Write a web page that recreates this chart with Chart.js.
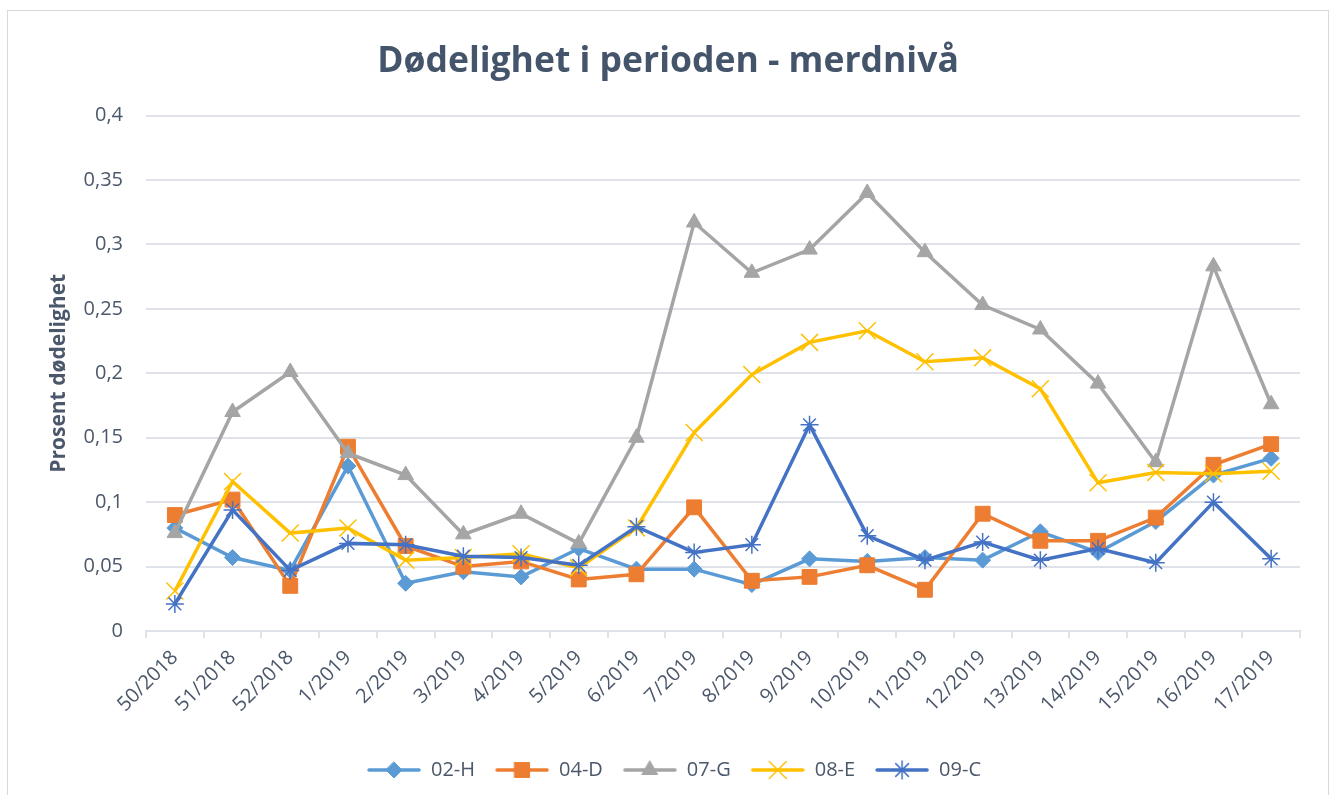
<!DOCTYPE html>
<html>
<head>
<meta charset="utf-8">
<script src="https://cdn.jsdelivr.net/npm/chart.js@4.4.1/dist/chart.umd.min.js"></script>
<style>
  html, body { margin: 0; padding: 0; background: #ffffff; }
  #wrap { position: relative; width: 1330px; height: 795px; overflow: hidden; }
  #frame { position: absolute; left: 7px; top: 10px; width: 1322px; height: 800px;
           border: 1px solid #d9d9d9; box-sizing: border-box; pointer-events: none; }
  canvas { position: absolute; left: 0; top: 0; }
</style>
</head>
<body>
<div id="wrap">
  <canvas id="c" width="1330" height="795"></canvas>
  <div id="frame"></div>
</div>
<script>
// ---- Data ----
const categories = ['50/2018','51/2018','52/2018','1/2019','2/2019','3/2019','4/2019','5/2019','6/2019','7/2019',
                    '8/2019','9/2019','10/2019','11/2019','12/2019','13/2019','14/2019','15/2019','16/2019','17/2019'];
const seriesNames = ['02-H','04-D','07-G','08-E','09-C'];
const s02H = [0.080,0.057,0.047,0.128,0.037,0.046,0.042,0.064,0.048,0.048,0.036,0.056,0.054,0.057,0.055,0.077,0.061,0.085,0.121,0.134];
const s04D = [0.090,0.102,0.035,0.143,0.066,0.050,0.054,0.040,0.044,0.096,0.039,0.042,0.051,0.032,0.091,0.070,0.070,0.088,0.129,0.145];
const s07G = [0.076,0.170,0.201,0.138,0.121,0.075,0.091,0.068,0.150,0.317,0.278,0.296,0.340,0.294,0.253,0.234,0.192,0.131,0.283,0.176];
const s08E = [0.031,0.116,0.076,0.080,0.055,0.057,0.060,0.049,0.080,0.154,0.199,0.224,0.233,0.209,0.212,0.188,0.115,0.123,0.122,0.124];
const s09C = [0.021,0.094,0.047,0.068,0.067,0.058,0.057,0.051,0.081,0.061,0.067,0.160,0.074,0.055,0.069,0.055,0.064,0.053,0.100,0.056];
const yTickValues = [0,0.05,0.1,0.15,0.2,0.25,0.3,0.35,0.4];
const yTickLabels = ['0','0,05','0,1','0,15','0,2','0,25','0,3','0,35','0,4'];
const titleText = 'Dødelighet i perioden - merdnivå';
const yTitleText = 'Prosent dødelighet';

// ---- Styles ----
const FONT = "'Open Sans', 'DejaVu Sans', sans-serif";
const textColor = '#4b576a';
const titleColor = '#44546A';
const gridColor = '#dfe3e9';
const seriesStyle = [
  { color: '#5B9BD5', point: 'rectRot',  radius: 8,    pbw: 1 },
  { color: '#ED7D31', point: 'rect',     radius: 10.5, pbw: 1 },
  { color: '#A5A5A5', point: 'triangle', radius: 9,    pbw: 1 },
  { color: '#FFC000', point: 'crossRot', radius: 12,   pbw: 1.5 },
  { color: '#4472C4', point: 'star',     radius: 9,    pbw: 1.5 }
];
const seriesData = [s02H, s04D, s07G, s08E, s09C];

function drawMarker(ctx, style, x, y, r, color, bw) {
  ctx.save();
  ctx.fillStyle = color; ctx.strokeStyle = color; ctx.lineWidth = bw;
  ctx.beginPath();
  if (style === 'rectRot') {
    ctx.moveTo(x, y - r); ctx.lineTo(x + r, y); ctx.lineTo(x, y + r); ctx.lineTo(x - r, y); ctx.closePath();
    ctx.fill(); ctx.stroke();
  } else if (style === 'rect') {
    const s = r * Math.SQRT1_2;
    ctx.rect(x - s, y - s, 2 * s, 2 * s); ctx.fill(); ctx.stroke();
  } else if (style === 'triangle') {
    ctx.moveTo(x, y - r);
    ctx.lineTo(x + r * Math.sin(Math.PI * 2 / 3), y - r * Math.cos(Math.PI * 2 / 3));
    ctx.lineTo(x + r * Math.sin(Math.PI * 4 / 3), y - r * Math.cos(Math.PI * 4 / 3));
    ctx.closePath(); ctx.fill(); ctx.stroke();
  } else if (style === 'crossRot') {
    const o = r * Math.SQRT1_2;
    ctx.moveTo(x - o, y - o); ctx.lineTo(x + o, y + o);
    ctx.moveTo(x - o, y + o); ctx.lineTo(x + o, y - o); ctx.stroke();
  } else if (style === 'star') {
    const o = r * Math.SQRT1_2;
    ctx.moveTo(x, y - r); ctx.lineTo(x, y + r);
    ctx.moveTo(x - r, y); ctx.lineTo(x + r, y);
    ctx.moveTo(x - o, y - o); ctx.lineTo(x + o, y + o);
    ctx.moveTo(x - o, y + o); ctx.lineTo(x + o, y - o); ctx.stroke();
  }
  ctx.restore();
}

// legend symbol: a short line with the marker, right-aligned in a wider box
function legendIcon(st) {
  const c = document.createElement('canvas');
  c.width = 66; c.height = 26;
  const ctx = c.getContext('2d');
  ctx.strokeStyle = st.color; ctx.lineWidth = 3.5; ctx.lineCap = 'round';
  ctx.beginPath(); ctx.moveTo(14, 13); ctx.lineTo(64, 13); ctx.stroke();
  drawMarker(ctx, st.point, 39, 13, st.radius, st.color, st.pbw);
  return c;
}

const datasets = seriesNames.map((name, i) => ({
  label: name,
  data: seriesData[i],
  borderColor: seriesStyle[i].color,
  backgroundColor: seriesStyle[i].color,
  borderWidth: 3.5,
  pointStyle: seriesStyle[i].point,
  pointRadius: seriesStyle[i].radius,
  pointHoverRadius: seriesStyle[i].radius,
  pointBackgroundColor: seriesStyle[i].color,
  pointBorderColor: seriesStyle[i].color,
  pointBorderWidth: seriesStyle[i].pbw,
  tension: 0,
  fill: false,
  order: seriesNames.length - 1 - i
}));

new Chart(document.getElementById('c'), {
  type: 'line',
  data: { labels: categories, datasets: datasets },
  options: {
    responsive: false,
    animation: false,
    events: [],
    layout: { padding: { left: 36, right: 30, top: 0, bottom: 5 } },
    plugins: {
      title: {
        display: true, text: titleText, color: titleColor,
        font: { family: FONT, size: 35.5, weight: 'bold' },
        padding: { top: 41, bottom: 32 }
      },
      legend: {
        display: true, position: 'bottom',
        labels: {
          usePointStyle: true, pointStyleWidth: 66, boxHeight: 20, padding: 8,
          color: textColor, font: { family: FONT, size: 20 },
          generateLabels: (chart) => seriesNames.map((name, i) => ({
            text: name,
            fillStyle: seriesStyle[i].color,
            strokeStyle: seriesStyle[i].color,
            lineWidth: 0,
            pointStyle: legendIcon(seriesStyle[i]),
            fontColor: textColor,
            hidden: false,
            datasetIndex: i
          }))
        }
      },
      tooltip: { enabled: false }
    },
    scales: {
      x: {
        type: 'category',
        offset: true,
        grid: { display: true, drawOnChartArea: false, drawTicks: true, offset: true, tickLength: 7, color: gridColor, lineWidth: 2 },
        border: { display: true, color: gridColor, width: 2 },
        ticks: { autoSkip: false, maxRotation: 45, minRotation: 45, padding: 8, color: textColor,
                 font: { family: FONT, size: 20 } },
        afterFit: (s) => { s.height = 121; }
      },
      y: {
        min: 0, max: 0.4,
        afterBuildTicks: (s) => { s.ticks = yTickValues.map(v => ({ value: v })); },
        grid: { color: gridColor, lineWidth: 2, drawTicks: false },
        border: { display: false },
        ticks: { padding: 23, color: textColor, font: { family: FONT, size: 20 },
                 callback: (v, i) => yTickLabels[i] },
        title: { display: true, text: yTitleText, color: textColor,
                 font: { family: FONT, size: 21, weight: 'bold' }, padding: { top: 10, bottom: 0 } },
        afterFit: (s) => { s.width = 110; }
      }
    }
  }
});
</script>
</body>
</html>
